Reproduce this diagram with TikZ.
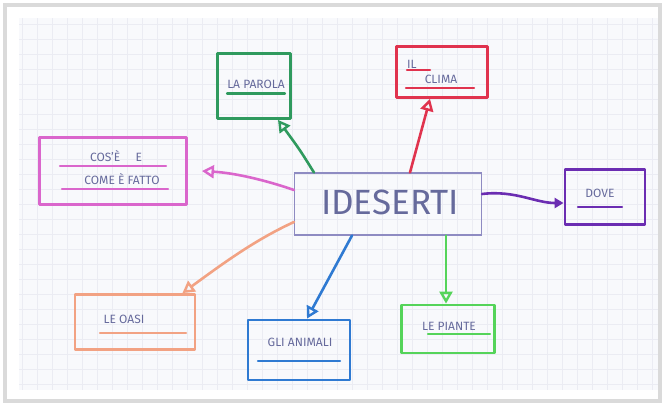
\documentclass[tikz,border=0pt]{standalone}
\usepackage{fontspec}
\setmainfont{Fira Sans}
\usetikzlibrary{arrows.meta}
\definecolor{ink}{HTML}{666A9C}
\definecolor{paper}{HTML}{F8F9FC}
\definecolor{gridc}{HTML}{EBECF3}
\definecolor{frame}{HTML}{DADADA}
\definecolor{cgreen}{HTML}{2F9A5E}
\definecolor{cred}{HTML}{E0334E}
\definecolor{cmag}{HTML}{DA66CC}
\definecolor{cpurp}{HTML}{6B2DB2}
\definecolor{csalm}{HTML}{F2A283}
\definecolor{cblue}{HTML}{2F7AD2}
\definecolor{clgreen}{HTML}{55D45A}
\definecolor{ccent}{HTML}{8E8BC2}
\tikzset{
  boxc/.style={draw=#1, line width=2.8pt, line join=round, inner sep=0pt},
  lbl/.style={text=ink, font=\fontsize{12}{14}\selectfont, inner sep=0pt},
  uline/.style={#1, line width=2.4pt, line cap=round},
  conn/.style={#1, line width=2.6pt, line cap=round, -{Triangle[open,length=12pt,width=13pt,line width=2.4pt]}},
}
\begin{document}
\begin{tikzpicture}[x=1pt,y=-1pt]
\useasboundingbox (0,0) rectangle (665,405);
% frame and paper
\fill[white] (0,0) rectangle (665,405);
\draw[frame, line width=4pt] (5,5) rectangle (660,401);
\fill[paper] (19,18) rectangle (658,390);
\begin{scope}
\clip (19,18) rectangle (658,390);
\foreach \x in {22,37,...,658} \draw[gridc, line width=0.8pt] (\x,18) -- (\x,390);
\foreach \y in {24,39,...,390} \draw[gridc, line width=0.8pt] (19,\y) -- (658,\y);
\end{scope}

% central node
\node[draw=ccent, line width=1.1pt, minimum width=187pt, minimum height=62pt, inner sep=0pt] (c) at (388,204) {};
\node[text=ink, font=\fontsize{35}{35}\selectfont, inner sep=0pt] (ct) at (390,202) {IDESERTI};

% child boxes
\node[boxc=cgreen, minimum width=73pt, minimum height=65pt] (par) at (254,86) {};
\node[boxc=cred, minimum width=91pt, minimum height=51pt] (cli) at (442,72) {};
\node[boxc=cmag, minimum width=147pt, minimum height=67pt] (cos) at (113,171) {};
\node[boxc=cpurp, minimum width=80pt, minimum height=55pt] (dov) at (605,197) {};
\node[boxc=csalm, minimum width=120pt, minimum height=55pt] (oas) at (135,322) {};
\node[boxc=cblue, minimum width=102pt, minimum height=60pt] (ani) at (299,350) {};
\node[boxc=clgreen, minimum width=93pt, minimum height=48pt] (pia) at (448,329) {};

% labels
\node[lbl] (tpar) at (256,84) {LA PAROLA};
\node[lbl, anchor=west] (tcli1) at (407,64) {IL};
\node[lbl] (tcli2) at (441,79) {CLIMA};
\node[lbl] (tcos1) at (116,156) {COS'È \quad E};
\node[lbl] (tcos2) at (122,179) {COME È FATTO};
\node[lbl] (tdov) at (600,193) {DOVE};
\node[lbl] (toas) at (124,319) {LE OASI};
\node[lbl] (tani) at (300,342) {GLI ANIMALI};
\node[lbl] (tpia) at (449,326) {LE PIANTE};

% underlines
\draw[uline=cgreen] ([yshift=-5pt]tpar.south west) -- ([yshift=-5pt]tpar.south east);
\draw[uline=cred] (407,70) -- (430,70);
\draw[uline=cred] (406,88) -- (474,88);
\draw[uline=cmag] (60,166) -- (166,166);
\draw[uline=cmag] (62,189) -- (168,189);
\draw[uline=cpurp] (578,207) -- (622,207);
\draw[uline=csalm] (100,333) -- (186,333);
\draw[uline=cblue] (258,361) -- (340,361);
\draw[uline=clgreen] (428,334) -- (490,334);

% connectors
\draw[conn=cgreen] ([xshift=20pt]c.north west) .. controls (300,150) .. ([xshift=24pt]par.south);
\draw[conn=cred] ([xshift=22pt]c.north) -- ([xshift=-12pt]cli.south);
\draw[conn=cmag] ([yshift=14pt]c.west) .. controls (265,180) and (235,173) .. ([xshift=14pt]cos.east);
\draw[cpurp, line width=2.6pt, line cap=round, -{Triangle[length=9pt,width=10pt]}] ([yshift=10pt]c.east) .. controls (515,190) and (535,203) .. ([yshift=-6pt]dov.west);
\draw[conn=csalm] ([yshift=-18pt]c.west) .. controls (255,240) and (225,262) .. ([xshift=-14pt]oas.north east);
\draw[conn=cblue] ([xshift=-36pt]c.south) -- ([xshift=8pt]ani.north);
\draw[conn=clgreen] ([xshift=58pt]c.south) -- ([xshift=-2pt]pia.north);
\end{tikzpicture}
\end{document}
